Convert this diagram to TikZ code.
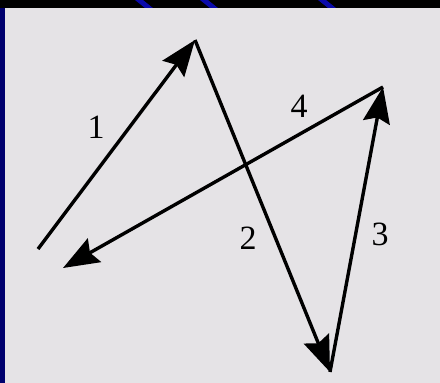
\documentclass[tikz,border=0pt]{standalone}
\usepackage{fontspec}
\setmainfont{Liberation Serif}
\usetikzlibrary{arrows.meta}

\definecolor{slidenavy}{RGB}{0,0,110}
\definecolor{slideblue}{RGB}{10,10,170}
\definecolor{panelgray}{RGB}{229,227,230}

\tikzset{
    path arrow/.style={line width=3.4pt, -{Stealth[length=36pt 0, width=27pt 0, inset=5pt]}},
    path label/.style={font=\fontsize{34}{38}\selectfont, inner sep=0pt}
}

\begin{document}
\begin{tikzpicture}[x=1pt, y=-1pt]

    % Slide background
    \useasboundingbox (0,0) rectangle (440,383);
    \fill[slidenavy] (0,0) rectangle (440,383);
    \fill[black] (0,0) rectangle (440,8);
    \foreach \x in {135,200,318} {
        \fill[slideblue] (\x,0) -- ++(8,0) -- ++(10,8) -- ++(-8,0) -- cycle;
    }
    \fill[panelgray] (5,8) rectangle (440,383);

    % Corners of the path
    \coordinate (start) at (38,249);
    \coordinate (top) at (195,40);
    \coordinate (bottom) at (330,372);
    \coordinate (right) at (383,87);
    \coordinate (end) at (63,268);

    % Legs
    \draw[path arrow] (start) -- (top);
    \draw[path arrow] (top) -- (bottom);
    \draw[path arrow] (bottom) -- (right);
    \draw[path arrow] (right) -- (end);

    % Leg numbers
    \node[path label] (one) at (96,127) {1};
    \node[path label] (two) at (248,238) {2};
    \node[path label] (three) at (380,234) {3};
    \node[path label] (four) at (299,106) {4};

\end{tikzpicture}
\end{document}
